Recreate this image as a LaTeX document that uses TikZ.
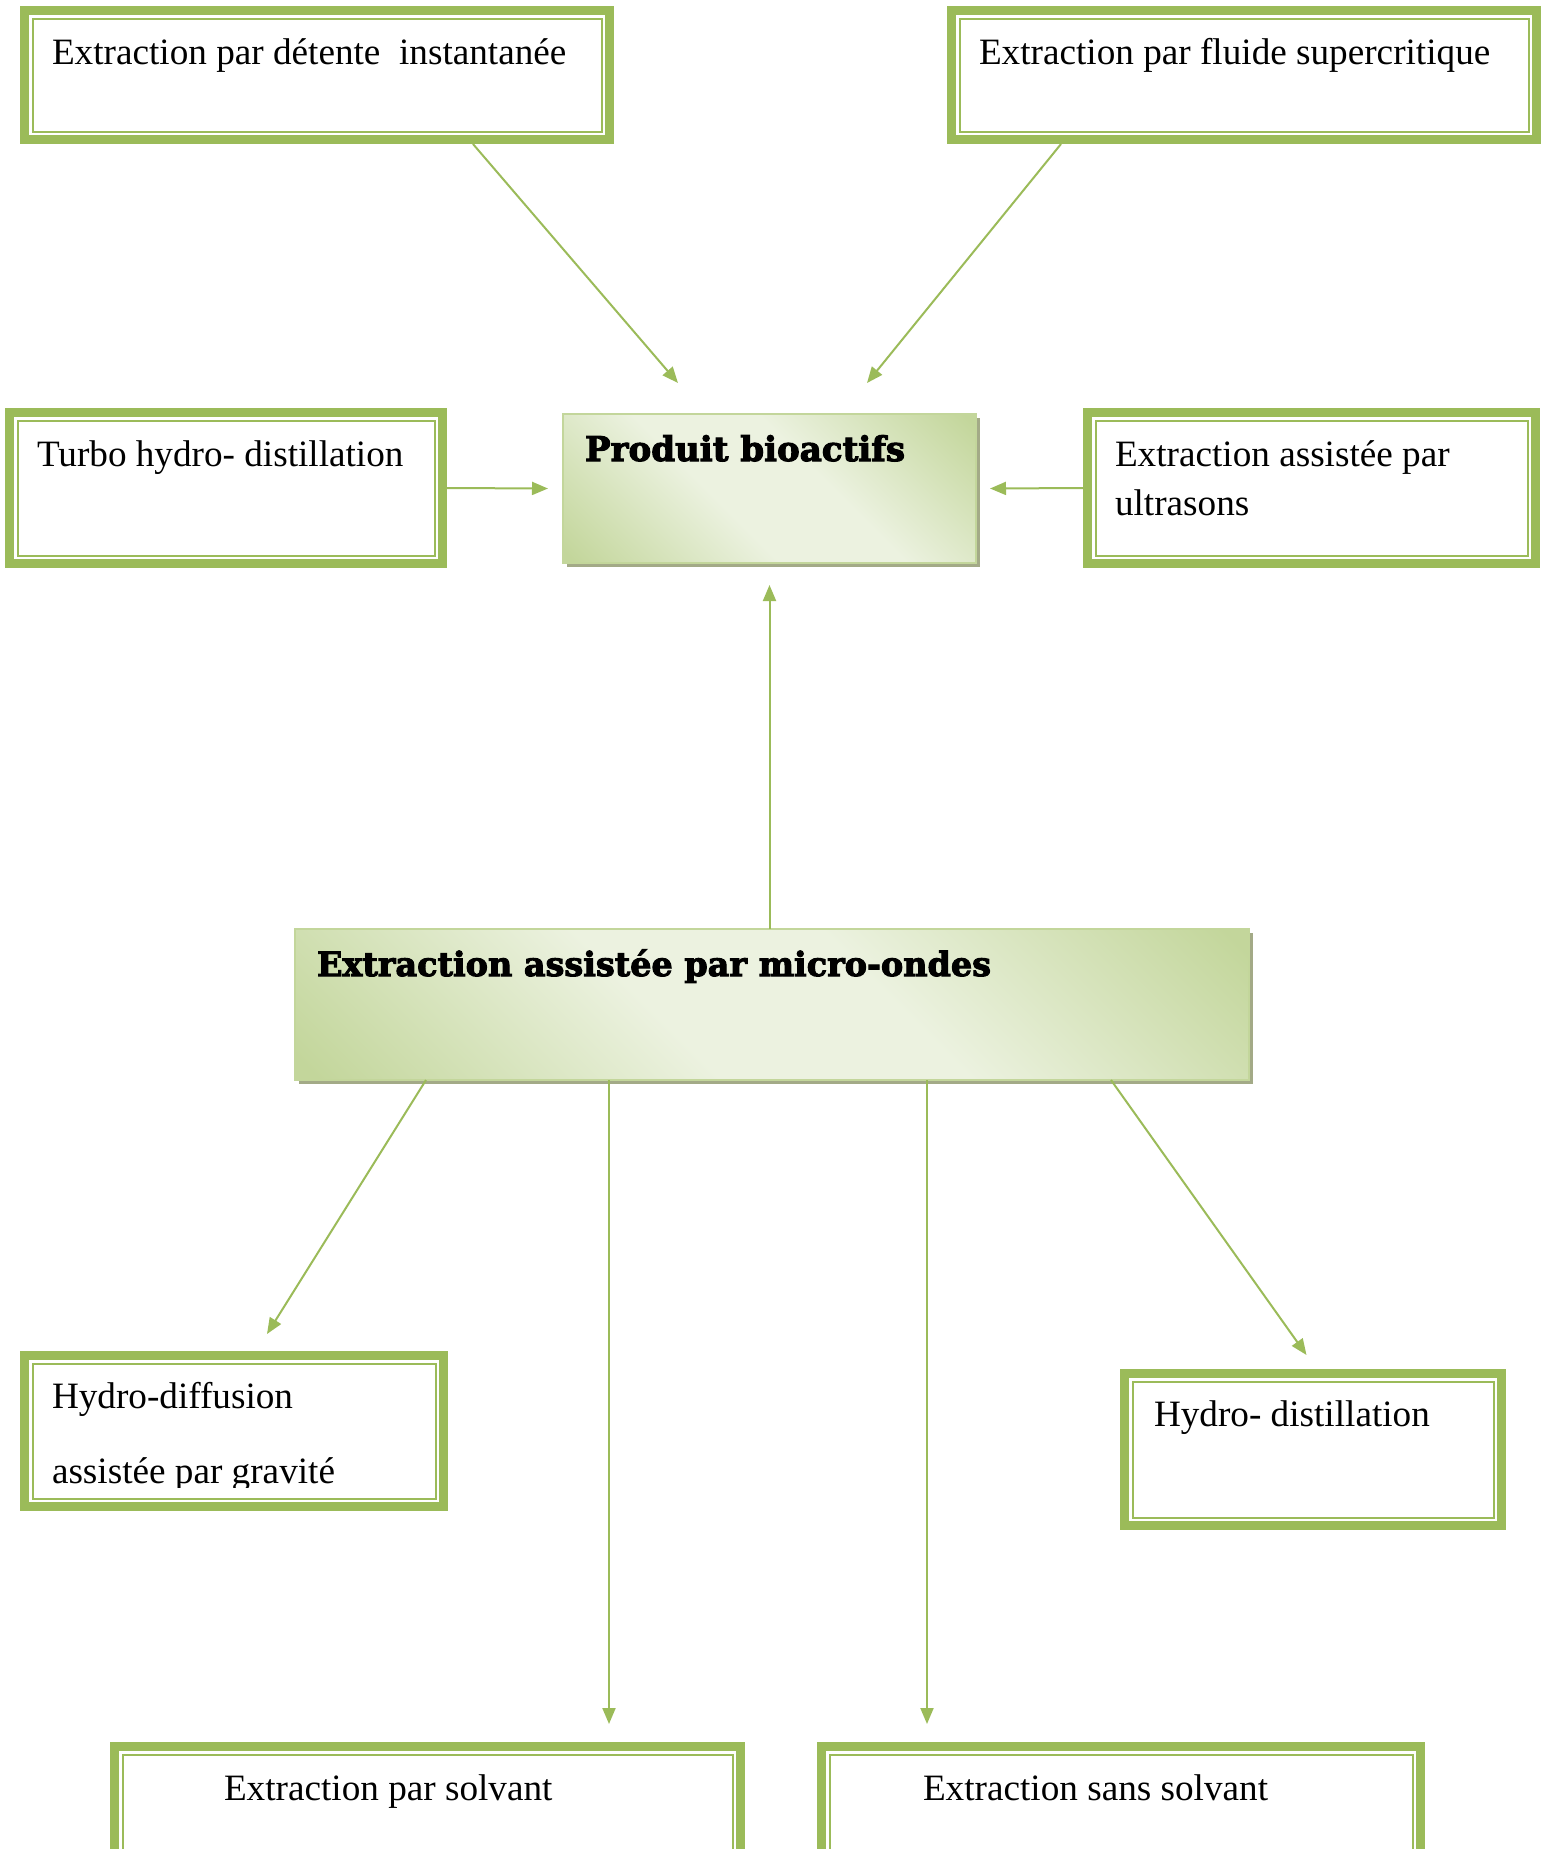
\documentclass[tikz,border=0pt]{standalone}
\usepackage{fontspec}
\setmainfont{Liberation Serif}
\newfontfamily\titlefont{DejaVu Serif}[BoldFeatures={FakeBold=3}]
\usepackage{graphicx}
\usetikzlibrary{arrows.meta,fit}
\definecolor{G}{RGB}{155,187,89}
\definecolor{Gd}{RGB}{195,214,155}
\definecolor{Gl}{RGB}{236,242,224}
\definecolor{Gsh}{RGB}{163,170,135}
\pgfdeclarehorizontalshading{officegreen}{100bp}{color(0bp)=(Gd); color(16bp)=(Gd); color(42bp)=(Gl); color(58bp)=(Gl); color(84bp)=(Gd); color(100bp)=(Gd)}
\newcommand\dblframe[1]{%
  \draw[G, line width=4.5pt] ([shift={(4.5,4.5)}]#1.north west) rectangle ([shift={(-4.5,-4.5)}]#1.south east);
  \draw[G, line width=1pt] ([shift={(12.5,12.5)}]#1.north west) rectangle ([shift={(-12.5,-12.5)}]#1.south east);}
\newcommand\gradbox[1]{%
  \fill[Gsh] ([shift={(4,4)}]#1.north west) rectangle ([shift={(4,4)}]#1.south east);
  \shade[shading=officegreen, shading angle=45] (#1.north west) rectangle (#1.south east);
  \draw[Gd, line width=0.8pt] (#1.north west) rectangle (#1.south east);}
\begin{document}
\begin{tikzpicture}[x=0.5pt, y=-0.5pt,
  frame/.style={inner sep=0pt, outer sep=0pt, draw=none, fill=none},
  lbl/.style={anchor=base west, inner sep=0pt, outer sep=0pt, align=left,
    font=\fontsize{18.6pt}{24.75pt}\selectfont},
  ttl/.style={anchor=base west, inner sep=0pt, outer sep=0pt},
  arr/.style={draw=G, line width=1pt, -{Triangle[length=8pt,width=6.5pt]}}]
\useasboundingbox (0,0) rectangle (1546,1849);
\clip (0,0) rectangle (1546,1849);

% box frames
\node[frame, fit={(20,6) (614,144)}] (A) {};
\node[frame, fit={(947,6) (1541,144)}] (B) {};
\node[frame, fit={(5,408) (447,568)}] (C) {};
\node[frame, fit={(1083,408) (1540,568)}] (D) {};
\node[frame, fit={(563,414) (976,563)}] (P) {};
\node[frame, fit={(295,929) (1249,1080)}] (M) {};
\node[frame, fit={(20,1351) (448,1511)}] (H1) {};
\node[frame, fit={(1120,1369) (1506,1530)}] (H2) {};
\node[frame, fit={(110,1742) (745,1880)}] (S1) {};
\node[frame, fit={(817,1742) (1425,1880)}] (S2) {};

\dblframe{A}\dblframe{B}\dblframe{C}\dblframe{D}
\dblframe{H1}\dblframe{H2}\dblframe{S1}\dblframe{S2}
\gradbox{P}\gradbox{M}

% texts
\node[lbl] (tA) at (52,64) {Extraction par détente~ instantanée};
\node[lbl] (tB) at (979,64) {Extraction par fluide supercritique};
\node[lbl] (tC) at (37,466) {Turbo hydro- distillation};
\node[lbl] (tD) at (1115,515.5) {Extraction assistée par\\ultrasons};
\node[ttl] (tP) at (585,461) {\resizebox{160pt}{!}{\titlefont\bfseries Produit bioactifs}};
\node[ttl] (tM) at (317,976) {\resizebox{337pt}{!}{\titlefont\bfseries Extraction assistée par micro-ondes}};
\begin{scope}
\clip (0,0) rectangle (1546,1487);
\node[lbl, font=\fontsize{18.6pt}{37.5pt}\selectfont] (tH1) at (52,1483) {Hydro-diffusion\\assistée par gravité};
\end{scope}
\node[lbl] (tH2) at (1154,1426) {Hydro- distillation};
\node[lbl] (tS1) at (224,1800) {Extraction par solvant};
\node[lbl] (tS2) at (923,1800) {Extraction sans solvant};

% connectors
\draw[arr] ([xshift=78pt]A.south) -- ([xshift=-45.75pt, yshift=15.5pt]P.north);
\draw[arr] ([xshift=-91.5pt]B.south) -- ([xshift=48.75pt, yshift=15.5pt]P.north);
\draw[arr] (C.east) -- ([xshift=-7.5pt]P.west);
\draw[arr] (D.west) -- ([xshift=7pt]P.east);
\draw[arr] (M.north -| P.south) -- ([yshift=-11pt]P.south);
\draw[arr] ([xshift=-173pt]M.south) -- ([xshift=16.5pt, yshift=8.5pt]H1.north);
\draw[arr] ([xshift=-81.5pt]M.south) -- ([xshift=90.75pt, yshift=9pt]S1.north);
\draw[arr] ([xshift=77.5pt]M.south) -- ([xshift=-97pt, yshift=9pt]S2.north);
\draw[arr] ([xshift=169.5pt]M.south) -- ([xshift=-3.25pt, yshift=7pt]H2.north);
\end{tikzpicture}
\end{document}
